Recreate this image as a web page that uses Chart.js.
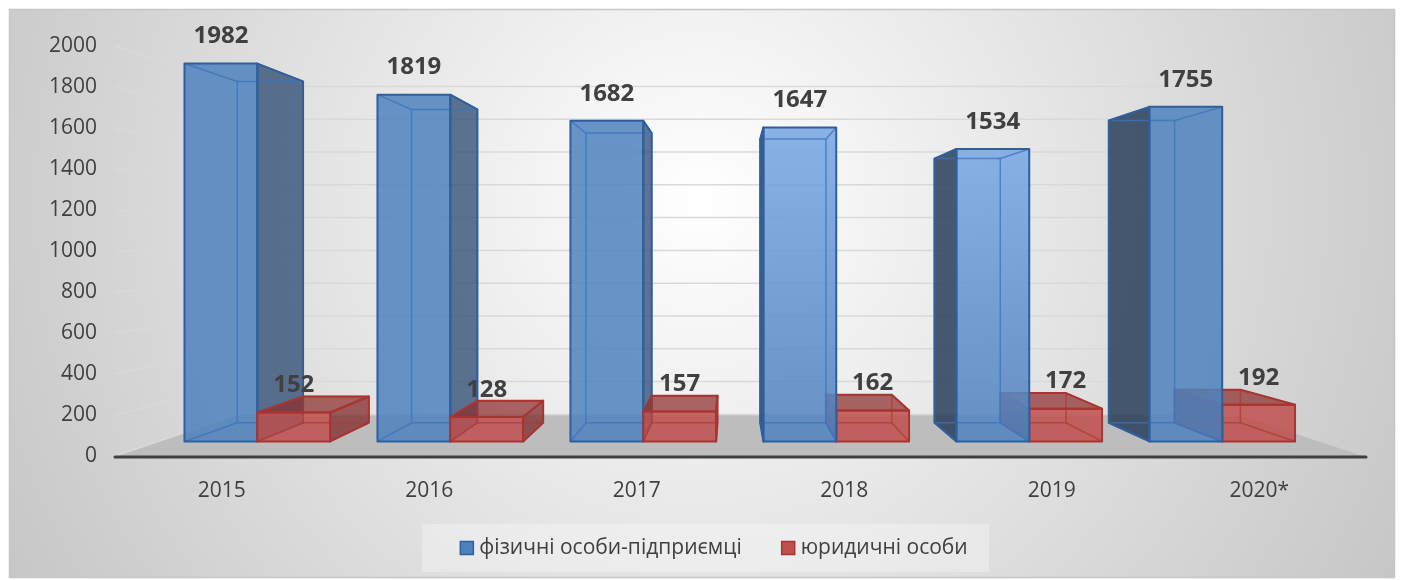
<!DOCTYPE html>
<html>
<head>
<meta charset="utf-8">
<script src="https://cdn.jsdelivr.net/npm/chart.js@4"></script>
<style>
  html, body { margin: 0; padding: 0; background: #fff; }
  canvas { display: block; }
</style>
</head>
<body>
<canvas id="myChart" width="1403" height="580"></canvas>
<script>
const years = ['2015', '2016', '2017', '2018', '2019', '2020*'];
const fop = [1982, 1819, 1682, 1647, 1534, 1755];
const legal = [152, 128, 157, 162, 172, 192];
const seriesNames = ['фізичні особи-підприємці', 'юридичні особи'];

// perspective setup (Excel 3D look)
const V = { x: 730, y: 248 };
const K_FRONT = 0.07, K_BACK = 0.16, K_WALL = 0.2;

const styles = [
  { front: 'rgba(79,129,189,0.85)', light: 'rgba(125,170,228,0.9)', side: 'rgba(40,72,112,0.75)', sideL: 'rgba(40,62,90,0.85)', top: 'rgba(50,90,140,0.7)',
    line: '#2f5f9c', inner: 'rgba(60,115,190,0.75)', legend: '#4f81bd' },
  { front: 'rgba(192,80,77,0.85)', light: null, side: 'rgba(130,40,40,0.75)', sideL: 'rgba(120,35,35,0.8)', top: 'rgba(140,45,43,0.72)',
    line: '#a83532', inner: 'rgba(170,60,58,0.75)', legend: '#c0504d' }
];

function proj(x, y, k) {
  return [x + (V.x - x) * k, y + (V.y - y) * k];
}

function poly(ctx, pts) {
  ctx.beginPath();
  ctx.moveTo(pts[0][0], pts[0][1]);
  for (let i = 1; i < pts.length; i++) ctx.lineTo(pts[i][0], pts[i][1]);
  ctx.closePath();
}

const scene3d = {
  id: 'scene3d',
  beforeDraw(chart) {
    const ctx = chart.ctx;
    const a = chart.chartArea;
    ctx.save();
    ctx.fillStyle = '#fff';
    ctx.fillRect(0, 0, chart.width, chart.height);
    // chart background
    const g = ctx.createRadialGradient(700, 200, 0, 700, 200, 820);
    g.addColorStop(0, '#ffffff');
    g.addColorStop(1, '#c4c4c4');
    ctx.fillStyle = g;
    ctx.fillRect(9, 9, 1386, 569);
    ctx.strokeStyle = '#c6c6c6';
    ctx.lineWidth = 1.5;
    ctx.strokeRect(9.5, 9.5, 1385, 568);

    const L = a.left - 3, R = a.right + 3, B = a.bottom;
    const ys = chart.scales.y;
    // gridlines on side and back wall
    ctx.strokeStyle = '#d9d9d9';
    ctx.lineWidth = 1.5;
    ys.ticks.forEach(t => {
      const yf = ys.getPixelForValue(t.value);
      const bl = proj(L, yf, K_WALL), br = proj(R, yf, K_WALL);
      ctx.beginPath();
      ctx.moveTo(L, yf);
      ctx.lineTo(bl[0], bl[1]);
      ctx.lineTo(br[0], br[1]);
      ctx.stroke();
    });
    // floor
    ctx.fillStyle = '#bdbdbd';
    poly(ctx, [[L, B + 1], [R, B + 1], proj(R, B + 1, K_WALL), proj(L, B + 1, K_WALL)]);
    ctx.fill();
    // x axis line
    ctx.strokeStyle = '#404040';
    ctx.lineWidth = 3;
    ctx.lineCap = 'round';
    ctx.beginPath();
    ctx.moveTo(L, B + 1);
    ctx.lineTo(R, B + 1);
    ctx.stroke();
    ctx.restore();
  },
  afterDatasetsDraw(chart) {
    const ctx = chart.ctx;
    const boxes = [];
    chart.data.datasets.forEach((ds, di) => {
      chart.getDatasetMeta(di).data.forEach((bar, i) => {
        const p = bar.getProps(['x', 'y', 'base', 'width'], true);
        boxes.push({ di, value: ds.data[i], x0: p.x - p.width / 2, x1: p.x + p.width / 2, yt: p.y, yb: p.base });
      });
    });
    // draw the boxes farther from the vanishing point first
    boxes.sort((a, b) => Math.abs((b.x0 + b.x1) / 2 - V.x) - Math.abs((a.x0 + a.x1) / 2 - V.x));

    ctx.save();
    ctx.lineJoin = 'round';
    boxes.forEach(b => {
      const s = styles[b.di];
      const FTL = proj(b.x0, b.yt, K_FRONT), FTR = proj(b.x1, b.yt, K_FRONT);
      const FBR = proj(b.x1, b.yb, K_FRONT), FBL = proj(b.x0, b.yb, K_FRONT);
      const BTL = proj(b.x0, b.yt, K_BACK), BTR = proj(b.x1, b.yt, K_BACK);
      const BBR = proj(b.x1, b.yb, K_BACK), BBL = proj(b.x0, b.yb, K_BACK);
      const cx = (FTL[0] + FTR[0]) / 2;
      const rightVisible = (b.x0 + b.x1) / 2 < V.x;
      const topVisible = b.yt > V.y;
      const side = rightVisible ? [FTR, BTR, BBR, FBR] : [FTL, BTL, BBL, FBL];

      // visible side face
      ctx.fillStyle = rightVisible ? s.side : s.sideL;
      poly(ctx, side);
      ctx.fill();
      if (topVisible) {
        ctx.fillStyle = s.top;
        poly(ctx, [FTL, FTR, BTR, BTL]);
        ctx.fill();
      }
      // front face, with a light sheen on the bars right of centre
      let fill = s.front;
      const sheen = s.light ? Math.max(0, 1 - Math.abs(cx - 900) / 170) : 0;
      if (sheen > 0) {
        const lg = ctx.createLinearGradient(0, FTL[1], 0, FBL[1]);
        lg.addColorStop(0, s.light);
        lg.addColorStop(1, s.front);
        fill = lg;
      }
      ctx.fillStyle = fill;
      poly(ctx, [FTL, FTR, FBR, FBL]);
      ctx.fill();

      // edges seen through the glass
      ctx.strokeStyle = s.inner;
      ctx.lineWidth = 1.5;
      [[BTL, BTR], [BTR, BBR], [BBR, BBL], [BBL, BTL], [FTL, BTL], [FTR, BTR], [FBR, BBR], [FBL, BBL]].forEach(e => {
        ctx.beginPath();
        ctx.moveTo(e[0][0], e[0][1]);
        ctx.lineTo(e[1][0], e[1][1]);
        ctx.stroke();
      });

      // outline
      ctx.strokeStyle = s.line;
      ctx.lineWidth = 2;
      poly(ctx, side);
      ctx.stroke();
      if (topVisible) {
        poly(ctx, [FTL, FTR, BTR, BTL]);
        ctx.stroke();
      }
      poly(ctx, [FTL, FTR, FBR, FBL]);
      ctx.stroke();
    });

    // value labels
    ctx.fillStyle = '#404040';
    ctx.font = 'bold 24px "Open Sans"';
    ctx.textAlign = 'center';
    ctx.textBaseline = 'middle';
    boxes.forEach(b => {
      const l = proj(b.x0, b.yt, K_FRONT), r = proj(b.x1, b.yt, K_FRONT);
      ctx.fillText(String(b.value), (l[0] + r[0]) / 2, l[1] - 27);
    });
    ctx.restore();
  },
  afterDraw(chart) {
    // legend
    const ctx = chart.ctx;
    ctx.save();
    ctx.fillStyle = 'rgba(255,255,255,0.3)';
    ctx.fillRect(422, 524, 567, 48);
    ctx.font = '21px "Open Sans"';
    ctx.textBaseline = 'middle';
    ctx.textAlign = 'left';
    const w = seriesNames.map(t => ctx.measureText(t).width);
    const total = 19 + w[0] + 40 + 19 + w[1];
    let x = 714 - total / 2;
    const y = 548;
    chart.data.datasets.forEach((ds, i) => {
      ctx.fillStyle = styles[i].legend;
      ctx.fillRect(x, y - 6.5, 13, 13);
      ctx.strokeStyle = styles[i].line;
      ctx.lineWidth = 1.5;
      ctx.strokeRect(x, y - 6.5, 13, 13);
      ctx.fillStyle = '#404040';
      ctx.fillText(ds.label, x + 19, y);
      x += 19 + w[i] + 40;
    });
    ctx.restore();
  }
};

const ctx = document.getElementById('myChart').getContext('2d');
const chart = new Chart(ctx, {
  type: 'bar',
  data: {
    labels: years,
    datasets: [
      { label: seriesNames[0], data: fop, backgroundColor: 'rgba(0,0,0,0)', borderWidth: 0, categoryPercentage: 0.755, barPercentage: 1 },
      { label: seriesNames[1], data: legal, backgroundColor: 'rgba(0,0,0,0)', borderWidth: 0, categoryPercentage: 0.755, barPercentage: 1 }
    ]
  },
  options: {
    responsive: false,
    animation: false,
    devicePixelRatio: 1,
    layout: { padding: { left: 20, right: 40, top: 46, bottom: 64 } },
    plugins: {
      legend: { display: false },
      tooltip: { enabled: false }
    },
    scales: {
      x: {
        grid: { display: false },
        border: { display: false },
        ticks: { color: '#404040', font: { family: 'Open Sans', size: 21 }, padding: 14, maxRotation: 0 },
        afterFit(s) { s.height = 60; }
      },
      y: {
        min: 0,
        max: 2000,
        grid: { display: false },
        border: { display: false },
        ticks: { stepSize: 200, color: '#404040', font: { family: 'Open Sans', size: 21 }, padding: 13, callback: v => String(v) },
        afterFit(s) { s.width = 98; }
      }
    }
  },
  plugins: [scene3d]
});
</script>
</body>
</html>
